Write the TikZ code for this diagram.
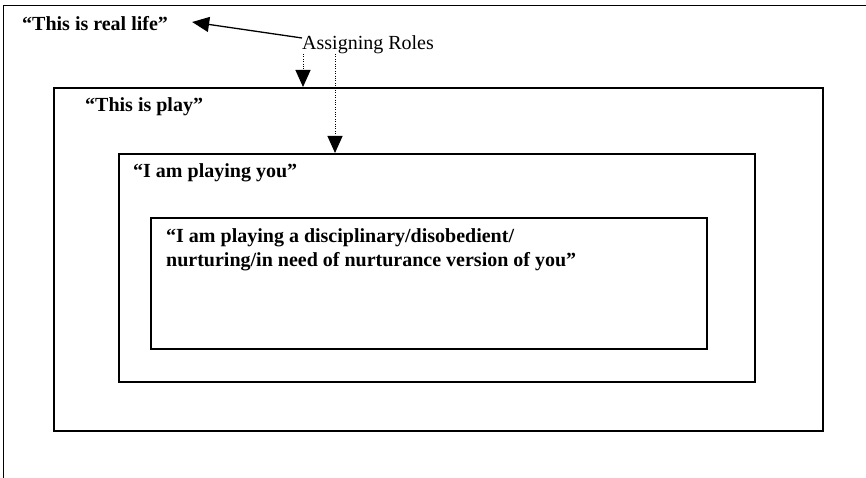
\documentclass[tikz,border=0pt]{standalone}
\usepackage{fontspec}
\setmainfont{Liberation Serif}
\usetikzlibrary{arrows.meta,calc}
\begin{document}
\begin{tikzpicture}[x=1pt,y=-1pt,
  frame/.style={draw, line width=1.6pt, inner sep=0pt, anchor=north west},
  lbl/.style={font=\bfseries\fontsize{20}{24}\selectfont, anchor=base west, inner sep=0pt, align=left},
  plain/.style={font=\fontsize{20}{24}\selectfont, anchor=base west, inner sep=0pt},
  tip/.style={-{Triangle[length=17pt,width=15pt]}},
  dots/.style={line width=1pt, dash pattern=on 1pt off 1.4pt},
]
\useasboundingbox (0,0) rectangle (866,478);
% outer frame (extends past right and bottom edges)
\node[frame, line width=1.1pt, minimum width=870pt, minimum height=476pt] (life) at (3,5) {};
\node[frame, minimum width=769pt, minimum height=343pt] (play) at (53,87) {};
\node[frame, minimum width=636pt, minimum height=228pt] (you) at (118,153) {};
\node[frame, minimum width=556pt, minimum height=131pt] (version) at (150,217) {};

\node[lbl] (lifetext) at (22,31) {“This is real life”};
\node[lbl] (playtext) at (85,112) {“This is play”};
\node[lbl] (youtext) at (133,178) {“I am playing you”};
\node[lbl] (versiontext) at (166,266) {“I am playing a disciplinary/disobedient/\\nurturing/in need of nurturance version of you”};

\node[plain] (roles) at (302,50) {Assigning Roles};

\coordinate (r0) at ($(roles.base west)+(0,-12)$);
\coordinate (l0) at ($(lifetext.base east)+(24,-9)$);
\draw[line width=1.3pt, tip] (r0) -- (l0);

\coordinate (d1) at ($(roles.base west)+(1,4)$);
\coordinate (d2) at ($(roles.base west)+(33,4)$);
\draw[dots, tip] (d1) -- (d1 |- play.north);
\draw[dots, tip] (d2) -- (d2 |- you.north);
\end{tikzpicture}
\end{document}
